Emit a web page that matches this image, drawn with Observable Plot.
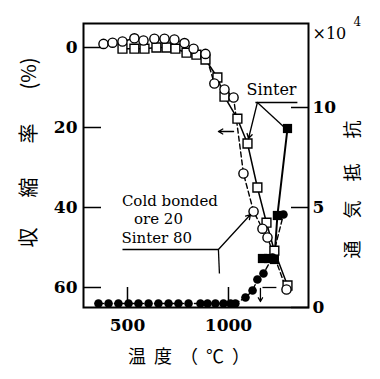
<!DOCTYPE html>
<html><head><meta charset="utf-8">
<script src="https://cdn.jsdelivr.net/npm/d3@7"></script>
<script src="https://cdn.jsdelivr.net/npm/@observablehq/plot@0.6"></script>
<style>body{margin:0;background:#fff}</style>
</head><body><div id="chart"></div>
<script>
// ---- scales / ticks ----
const xDomain = [302, 1416];
const leftDomain = [-6, 65];      // 収縮率 (%) , inverted
const rightDomain = [0, 14.2];    // 通気抵抗 ×10^4
const xTicks = [500, 1000];
const leftTicks = [0, 20, 40, 60];
const rightTicks = [0, 5, 10];

// ---- shrinkage: Cold bonded ore 20 / Sinter 80 (open circles, dashed) ----
const tempColdShrink = [401,446,495,554,599,653,703,752,802,847,906,950,1000,1045,1094,1144,1188,1213,1307];
const shrinkCold     = [-0.9,-1.2,-1.5,-2.3,-1.75,-2.2,-2.2,-2.0,-1.1,0.3,1.6,9,10.5,12.5,31.5,41,45.3,47.5,60.5];

// ---- shrinkage: Sinter (open squares, solid) ----
const tempSinterShrink = [495,554,604,663,713,757,812,861,906,965,1000,1064,1114,1163,1208,1247,1312];
const shrinkSinter     = [0.3,0.3,0.3,0,0,0.3,1.3,1.8,3,7.5,12.3,17.8,24,35,43.8,50.8,59.5];

// ---- air resistance: Cold bonded (filled circles, dashed) ----
const tempColdResist = [376,426,475,525,574,624,673,723,772,822,881,916,955,995,1030,1054,1104,1139,1163,1193,1238,1292];
const resistCold     = [0.2,0.2,0.2,0.2,0.2,0.2,0.2,0.2,0.2,0.2,0.2,0.2,0.2,0.2,0.2,0.2,0.5,0.85,1.4,1.7,2.5,4.65];

// ---- air resistance: Sinter (filled squares, solid) ----
const tempSinterResist = [1188,1218,1247,1262,1312];
const resistSinter     = [2.45,2.45,2.4,4.6,8.95];

// ---- labels ----
const xLabel = "温度（℃）";
const yLabelParts = [{t: "収", y: 50}, {t: "縮", y: 37.5}, {t: "率", y: 24}, {t: "(%)", y: 10.5}];
const y2LabelParts = [{t: "通", y: 48.25}, {t: "気", y: 38.25}, {t: "抵", y: 29}, {t: "抗", y: 18.25}];
const sinterText = [{t: "Sinter", x: 1233, y: 10.5}];
const coldText = [
  {t: "Cold bonded", x: 492, y: 38.3},
  {t: "ore 20", x: 552, y: 43},
  {t: "Sinter 80", x: 490, y: 47.6}
];
// leader lines (data units)
const leaderLinks = [
  {x1: 1153, y1: 13.75, x2: 1361, y2: 13.75},
  {x1: 1163, y1: 13.75, x2: 1292, y2: 19.75},
  {x1: 495, y1: 50.5, x2: 970, y2: 50.5},
  {x1: 970, y1: 50.5, x2: 975, y2: 56.5},
  {x1: 1188, y1: 60, x2: 1257, y2: 60}
];
const leaderArrows = [
  {x1: 1163, y1: 13.75, x2: 1119, y2: 22.75},
  {x1: 970, y1: 50.5, x2: 1129, y2: 41.75},
  {x1: 1045, y1: 21, x2: 970, y2: 21},
  {x1: 1178, y1: 60.25, x2: 1178, y2: 63.5}
];

// map right-axis values into left-axis units
const toLeft = v => leftDomain[1] - (v - rightDomain[0]) / (rightDomain[1] - rightDomain[0]) * (leftDomain[1] - leftDomain[0]);
const zip = (xs, ys) => xs.map((x, i) => ({x, y: ys[i]}));

const coldShrink = zip(tempColdShrink, shrinkCold);
const sinterShrink = zip(tempSinterShrink, shrinkSinter);
const coldResist = zip(tempColdResist, resistCold.map(toLeft));
const sinterResist = zip(tempSinterResist, resistSinter.map(toLeft));

const numFont = {fontFamily: "DejaVu Serif", fontWeight: "bold", fontSize: 17};

const chart = Plot.plot({
  width: 380, height: 379,
  marginLeft: 83, marginRight: 72, marginTop: 23, marginBottom: 72,
  x: {domain: xDomain},
  y: {domain: leftDomain, reverse: true},
  style: {fontFamily: "DejaVu Serif", background: "white", color: "black"},
  marks: [
    Plot.line(coldShrink, {x: "x", y: "y", stroke: "black", strokeWidth: 1.4, strokeDasharray: "5,3"}),
    Plot.line(sinterShrink, {x: "x", y: "y", stroke: "black", strokeWidth: 1.5}),
    Plot.line(coldResist, {x: "x", y: "y", stroke: "black", strokeWidth: 1.4, strokeDasharray: "5,3"}),
    Plot.line(sinterResist, {x: "x", y: "y", stroke: "black", strokeWidth: 2}),
    Plot.dot(sinterShrink, {x: "x", y: "y", symbol: "square", r: 5, fill: "white", stroke: "black", strokeWidth: 1.4}),
    Plot.dot(coldShrink, {x: "x", y: "y", symbol: "circle", r: 4.6, fill: "white", stroke: "black", strokeWidth: 1.4}),
    Plot.dot(coldResist, {x: "x", y: "y", symbol: "circle", r: 4.3, fill: "black"}),
    Plot.dot(sinterResist, {x: "x", y: "y", symbol: "square", r: 5.2, fill: "black"}),
    Plot.link(leaderLinks, {x1: "x1", y1: "y1", x2: "x2", y2: "y2", stroke: "black", strokeWidth: 1.3}),
    Plot.arrow(leaderArrows, {x1: "x1", y1: "y1", x2: "x2", y2: "y2", stroke: "black", strokeWidth: 1.3, headLength: 6}),
    Plot.text(sinterText, {x: "x", y: "y", text: "t", fontSize: 16, fontFamily: "DejaVu Serif"}),
    Plot.text(coldText, {x: "x", y: "y", text: "t", textAnchor: "start", fontSize: 15, fontFamily: "DejaVu Serif"}),
    Plot.axisX({ticks: xTicks, tickSize: -20, tickPadding: 31, dx: 4, strokeWidth: 1.5, label: null, tickFormat: d => String(d), ...numFont}),
    Plot.axisY({anchor: "left", ticks: leftTicks, tickSize: -18, tickPadding: 24, strokeWidth: 1.5, label: null, tickFormat: d => String(d), ...numFont}),
    Plot.axisY({anchor: "right", ticks: rightTicks.map(toLeft), tickSize: -18, tickPadding: 22, strokeWidth: 1.5, label: null,
      tickFormat: d => String(Math.round(rightDomain[0] + (leftDomain[1] - d) / (leftDomain[1] - leftDomain[0]) * (rightDomain[1] - rightDomain[0]))), ...numFont}),
    Plot.frame({stroke: "black", strokeWidth: 2}),
    Plot.text(yLabelParts, {y: "y", text: "t", frameAnchor: "left", rotate: -90, dx: -54, fontSize: 20, fontFamily: "Noto Sans CJK JP"}),
    Plot.text(y2LabelParts, {y: "y", text: "t", frameAnchor: "right", rotate: -90, dx: 45, fontSize: 18, fontFamily: "Noto Sans CJK JP"}),
    Plot.text([xLabel], {text: d => d, frameAnchor: "bottom", dy: 55, dx: -3, fontSize: 18, fontFamily: "Noto Sans CJK JP"}),
    Plot.text(["×10"], {text: d => d, frameAnchor: "top-right", textAnchor: "start", dx: 4, dy: 4, fontSize: 16, fontFamily: "DejaVu Serif"}),
    Plot.text(["4"], {text: d => d, frameAnchor: "top-right", textAnchor: "start", dx: 45, dy: -6, fontSize: 12, fontFamily: "DejaVu Serif"})
  ]
});

d3.select(chart).selectAll("text").each(function() {
  if (this.textContent === xLabel) this.setAttribute("letter-spacing", 8);
});
document.getElementById("chart").appendChild(chart);
</script>
</body></html>
